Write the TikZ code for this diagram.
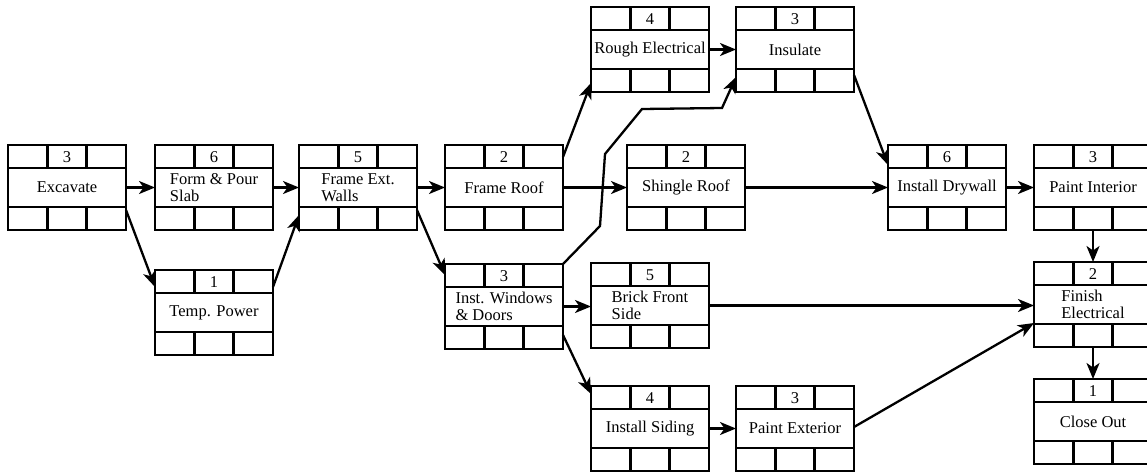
\documentclass[tikz,border=0pt]{standalone}
\usepackage{fontspec}
\setmainfont{Liberation Serif}
\usetikzlibrary{arrows.meta,calc}
\tikzset{
  taskbox/.style={draw, line width=2.8pt, minimum width=118pt, minimum height=85pt,
    inner sep=0pt, outer sep=0pt, align=left, font=\fontsize{16.5}{17}\selectfont},
  numlabel/.style={inner sep=0pt, font=\fontsize{16.5}{17}\selectfont},
  gridline/.style={line width=2.8pt},
  conn/.style={line width=2.3pt, -{Stealth[length=16pt,width=13pt,inset=4.5pt]}},
}
\newcommand{\taskat}[5]{% name, left x, top y, number, text
  \node[taskbox] (#1) at (#2+59,#3+42.5) {#5};
  \draw[gridline] ([yshift=-23pt]#1.north west) -- ([yshift=-23pt]#1.north east);
  \draw[gridline] ([yshift=23pt]#1.south west) -- ([yshift=23pt]#1.south east);
  \draw[gridline] ([xshift=39.3pt]#1.north west) -- ([xshift=39.3pt,yshift=-23pt]#1.north west);
  \draw[gridline] ([xshift=78.7pt]#1.north west) -- ([xshift=78.7pt,yshift=-23pt]#1.north west);
  \draw[gridline] ([xshift=39.3pt]#1.south west) -- ([xshift=39.3pt,yshift=23pt]#1.south west);
  \draw[gridline] ([xshift=78.7pt]#1.south west) -- ([xshift=78.7pt,yshift=23pt]#1.south west);
  \node[numlabel] (#1-num) at ([yshift=-12pt]#1.north) {#4};
}
\begin{document}
\begin{tikzpicture}[x=1pt,y=-1pt]
\useasboundingbox (0,0) rectangle (1147,471);
\clip (0,0) rectangle (1147,471);
\fill[white] (0,0) rectangle (1147,471);
% boxes
\taskat{exc}{8}{145}{3}{Excavate}
\taskat{form}{155}{145}{6}{Form \& Pour\\Slab}
\taskat{temp}{155}{270}{1}{Temp. Power}
\taskat{walls}{299}{145}{5}{Frame Ext.\\Walls}
\taskat{roof}{445}{145}{2}{Frame Roof}
\taskat{win}{445}{264}{3}{Inst. Windows\\\& Doors}
\taskat{rough}{591}{7}{4}{Rough Electrical}
\taskat{ins}{736}{7}{3}{Insulate}
\taskat{shingle}{627}{145}{2}{Shingle Roof}
\taskat{brick}{591}{263}{5}{Brick Front\\Side}
\taskat{sid}{591}{386}{4}{Install Siding}
\taskat{pext}{736}{386}{3}{Paint Exterior}
\taskat{dry}{888}{145}{6}{Install Drywall}
\taskat{pint}{1034}{145}{3}{Paint Interior}
\taskat{fin}{1034}{262}{2}{Finish\\Electrical}
\taskat{close}{1034}{379}{1}{Close Out}
% connectors
\draw[conn] (exc.east) -- (form.west);
\draw[conn] ([yshift=-65pt]exc.north east) -- ([yshift=-17pt]temp.north west);
\draw[conn] ([yshift=-17pt]temp.north east) -- ([yshift=-70pt]walls.north west);
\draw[conn] (form.east) -- (walls.west);
\draw[conn] (walls.east) -- (roof.west);
\draw[conn] ([yshift=-65pt]walls.north east) -- ([yshift=-11pt]win.north west);
\draw[conn] ([yshift=-12pt]roof.north east) -- ([yshift=-76pt]rough.north west);
\draw[conn] (roof.east) -- (shingle.west);
\draw[conn] (win.north east) -- ++(37pt,38pt) -- ++(5pt,72pt) -- ++(37pt,45pt)
  -- ([shift={(-14pt,-16pt)}]ins.south west) -- ([yshift=-70pt]ins.north west);
\draw[conn] (rough.east) -- (ins.west);
\draw[conn] ([yshift=-68pt]ins.north east) -- ([yshift=-20pt]dry.north west);
\draw[conn] (shingle.east) -- (dry.west);
\draw[conn] (dry.east) -- (pint.west);
\draw[conn] (pint.south) -- (fin.north);
\draw[conn] (win.east) -- (win.east -| brick.west);
\draw[conn] ([yshift=-71pt]win.north east) -- ([yshift=-8pt]sid.north west);
\draw[conn] (brick.east) -- (brick.east -| fin.west);
\draw[conn] (sid.east) -- (pext.west);
\draw[conn] ([yshift=-41pt]pext.north east) -- ([yshift=-61pt]fin.north west);
\draw[conn] (fin.south) -- (close.north);
\end{tikzpicture}
\end{document}
